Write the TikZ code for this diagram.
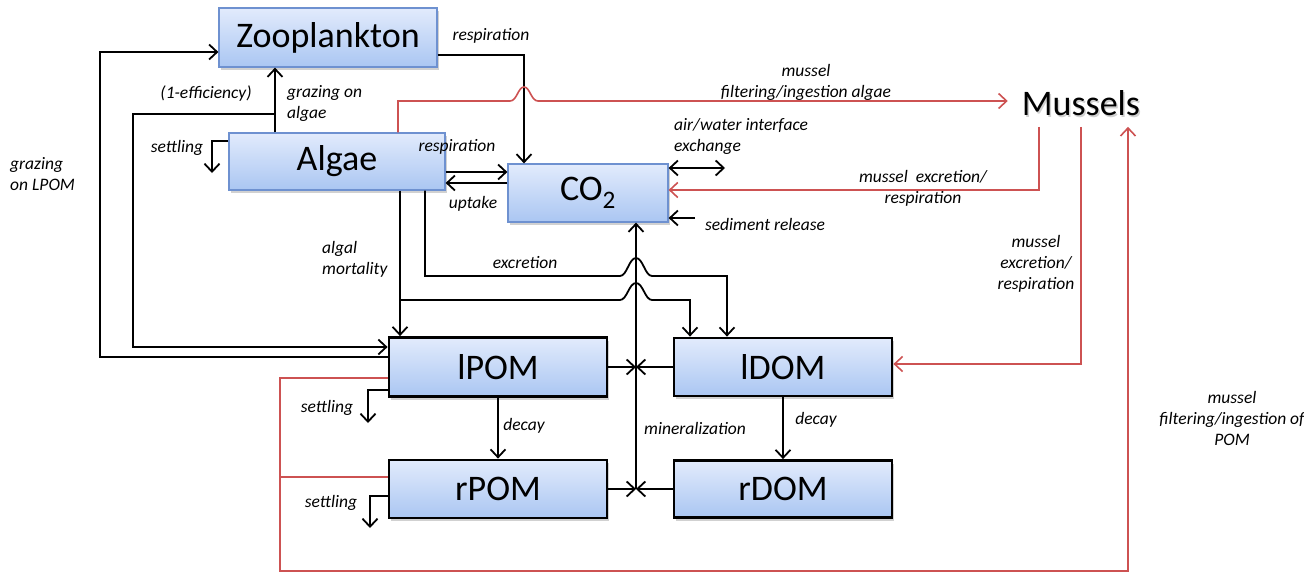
\documentclass[tikz,border=0pt]{standalone}
\usepackage{fontspec}
\setmainfont{Carlito}
\usetikzlibrary{arrows.meta,shadows}
\definecolor{boxtop}{RGB}{226,235,252}
\definecolor{boxbot}{RGB}{170,198,242}
\definecolor{boxedge}{RGB}{110,145,208}
\definecolor{musred}{RGB}{205,82,82}

\begin{document}
\begin{tikzpicture}[x=1pt,y=-1pt,
  tip/.tip={Straight Barb[length=8pt,width=15pt]},
  line/.style={draw=black,line width=1.8pt},
  arr/.style={line,-tip},
  dblarr/.style={line,tip-tip},
  redline/.style={draw=musred,line width=1.6pt},
  redarr/.style={redline,-tip},
  pool/.style={shade,top color=boxtop,bottom color=boxbot,draw=boxedge,line width=1.2pt,
    inner sep=0pt,font=\fontsize{36}{40}\selectfont,
    drop shadow={shadow xshift=2pt,shadow yshift=-3pt,opacity=0.3,fill=black!60}},
  pom/.style={pool,draw=black,line width=2.8pt},
  lbl/.style={font=\fontsize{17.5}{21}\selectfont\itshape,align=center,inner sep=0pt},
  lbll/.style={lbl,align=left}]
\useasboundingbox (0,0) rectangle (1304,573);

% pools
\node[pool,minimum width=218pt,minimum height=59pt] (zoo) at (328,37.5) {Zooplankton};
\node[pool,minimum width=216pt,minimum height=57pt] (alg) at (337,161.5) {Algae};
\node[pool,minimum width=160pt,minimum height=58pt] (co2) at (588,193) {CO\textsubscript{2}};
\node[pom,minimum width=218pt,minimum height=59pt] (lpom) at (498,367) {lPOM};
\node[pom,minimum width=218pt,minimum height=58pt] (rpom) at (498,489) {rPOM};
\node[pom,minimum width=218pt,minimum height=58pt] (ldom) at (783,367) {lDOM};
\node[pom,minimum width=218pt,minimum height=57pt] (rdom) at (783,489) {rDOM};
% mussels, with a soft text shadow
\node[inner sep=0pt,font=\fontsize{36}{40}\selectfont,text=black!30,opacity=0.6] at (1082.5,105.5) {Mussels};
\node[inner xsep=14pt,inner ysep=11pt,font=\fontsize{36}{40}\selectfont] (mus) at (1081,103) {Mussels};

% free ends
\coordinate (setA) at (212,173);
\coordinate (setL) at (368,423);
\coordinate (setR) at (370,528);
\coordinate (airend) at (725,168);
\coordinate (sedsrc) at (695,218);
\coordinate (minj) at (636,489);
\coordinate (minu) at (636,367);

% zooplankton grazing and respiration
\draw[arr] (alg.north -| 275,0) -- (zoo.south -| 275,0);
\draw[arr] (275,114) -- (133,114) -- (133,347) -- (lpom.west |- 0,347);
\draw[arr] (lpom.west |- 0,357) -- (100,357) -- (100,52) -- (zoo.west |- 0,52);
\draw[arr] (zoo.east |- 0,55) -- (524,55) -- (co2.north -| 524,0);

% algae exchanges with CO2
\draw[arr] (alg.east |- 0,172) -- (co2.west |- 0,172);
\draw[arr] (co2.west |- 0,183) -- (alg.east |- 0,183);
\draw[dblarr] (co2.east |- 0,168) -- (airend);
\draw[arr] (sedsrc) -- (co2.east |- 0,218);

% settling
\draw[arr] (alg.west |- 0,141) -- (212,141) -- (setA);
\draw[arr] (lpom.west |- 0,390) -- (368,390) -- (setL);
\draw[arr] (rpom.west |- 0,496) -- (370,496) -- (setR);

% algal mortality and excretion
\draw[arr] (alg.south -| 400,0) -- (lpom.north -| 400,0);
\draw[arr] (400,300) -- (620,300) .. controls (627,300) and (629,283) .. (636,283)
  .. controls (643,283) and (645,300) .. (652,300) -- (690,300) -- (ldom.north -| 690,0);
\draw[arr] (alg.south -| 425,0) -- (425,276) -- (620,276) .. controls (627,276) and (629,258) .. (636,258)
  .. controls (643,258) and (645,276) .. (652,276) -- (727,276) -- (ldom.north -| 727,0);

% decay and mineralization
\draw[arr] (lpom.south) -- (rpom.north);
\draw[arr] (ldom.south) -- (rdom.north);
\draw[line] (minj) -- (minu);
\draw[arr] (minu) -- (co2.south -| 636,0);
\draw[arr] (lpom.east) -- (minu);
\draw[arr] (ldom.west) -- (minu);
\draw[arr] (rpom.east) -- (minj);
\draw[arr] (rdom.west) -- (minj);

% mussel fluxes
\draw[redarr] (alg.north -| 398,0) -- (398,101) -- (510,101) .. controls (517,101) and (518,87) .. (524,87)
  .. controls (530,87) and (531,101) .. (538,101) -- (mus.west |- 0,101);
\draw[redarr] (mus.south -| 1039,0) -- (1039,190) -- (co2.east |- 0,190);
\draw[redarr] (mus.south -| 1081,0) -- (1081,364) -- (ldom.east |- 0,364);
\draw[redarr] (lpom.west |- 0,378) -- (280,378) -- (280,571) -- (1128,571) -- (mus.south -| 1128,0);
\draw[redline] (280,477) -- (rpom.west |- 0,477);

% labels
\node[lbl] (lzr) at (491,36) {respiration};
\node[lbl] (leff) at (206,94) {(1-efficiency)};
\node[lbll,anchor=west] (lgra) at (287,103) {grazing on\\algae};
\node[lbl] (lsa) at (177,148) {settling};
\node[lbll,anchor=west] (lglp) at (10,174) {grazing\\on LPOM};
\node[lbl] (lar) at (457,147) {respiration};
\node[lbl] (lup) at (473,204) {uptake};
\node[lbll,anchor=west] (lair) at (674,136) {air/water interface\\exchange};
\node[lbl] (lsed) at (765,224) {sediment release};
\node[lbl] (lmfa) at (806,82) {mussel\\filtering/ingestion algae};
\node[lbl] (lmer) at (923,188) {mussel\ \ excretion/\\respiration};
\node[lbl] (lmed) at (1036,264) {mussel\\excretion/\\respiration};
\node[lbl] (lmfp) at (1232,418) {mussel\\filtering/ingestion of\\POM};
\node[lbll,anchor=west] (lmort) at (322,259) {algal\\mortality};
\node[lbl] (lexc) at (525,263) {excretion};
\node[lbl] (lsl) at (327,408) {settling};
\node[lbl] (lsr) at (331,503) {settling};
\node[lbl] (ldp) at (524,426) {decay};
\node[lbl] (ldd) at (816,420) {decay};
\node[lbl] (lmin) at (695,428) {mineralization};
\end{tikzpicture}
\end{document}
